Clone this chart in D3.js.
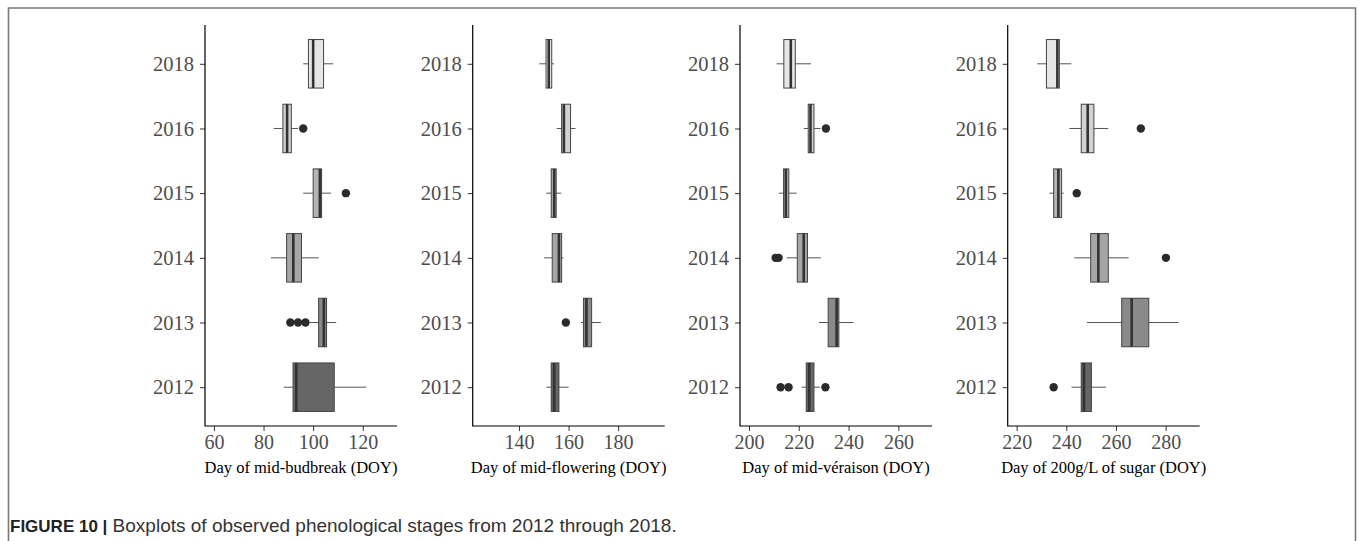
<!DOCTYPE html>
<html>
<head>
<meta charset="utf-8">
<script src="https://cdn.jsdelivr.net/npm/d3@7"></script>
<style>
  html, body { margin: 0; padding: 0; background: #fff; }
  svg { display: block; }
</style>
</head>
<body>
<svg id="chart" width="1360" height="541"></svg>
<script>
// ---------- DATA ----------
const years = ["2018", "2016", "2015", "2014", "2013", "2012"];

// per year: [lower whisker, Q1, median, Q3, upper whisker]
const budbreakStats = [
  [96, 98.1, 100, 104.2, 108.1],
  [84.1, 87.8, 89.5, 91.2, 93.9],
  [96, 100, 102.7, 103.4, 107.2],
  [83, 89.3, 92, 95.3, 102.2],
  [98.6, 102.2, 104.3, 105.4, 109.3],
  [88.1, 91.9, 93.2, 108.5, 121.4]
];
const budbreakOutliers = [[], [96], [113.2], [], [90.8, 93.9, 96.9], []];

const floweringStats = [
  [148.2, 150.9, 152, 153.2, 154.1],
  [155.2, 157.2, 158.1, 160.8, 162.8],
  [151, 153, 154.2, 155, 157],
  [150.1, 153.4, 156.1, 157.2, 157.9],
  [165, 166, 167.2, 169.3, 173],
  [151, 153, 154.2, 156.1, 160]
];
const floweringOutliers = [[], [], [], [], [158.9], []];

const veraisonStats = [
  [211.1, 214, 216.8, 218.6, 224.9],
  [222, 223.8, 224.7, 226.1, 228.7],
  [212, 213.9, 214.8, 216, 219.1],
  [215.1, 219.4, 222, 223.5, 228.9],
  [228.1, 231.8, 235.2, 236.1, 242],
  [221.1, 223, 224.2, 226.1, 228.5]
];
const veraisonOutliers = [[], [230.9], [], [210.7, 211.9], [], [212.7, 215.9, 230.7]];

const sugarStats = [
  [228.3, 232, 236.4, 237.2, 242],
  [241.2, 246, 248.6, 251.1, 256.9],
  [233.2, 234.9, 236.8, 238.1, 238.9],
  [243.2, 249.8, 252.9, 256.9, 265.1],
  [248.3, 262.3, 266.3, 273.2, 285.2],
  [242.1, 246, 247.1, 250.1, 256]
];
const sugarOutliers = [[], [270], [244.2], [280.1], [], [234.9]];

const axisTitles = [
  "Day of mid-budbreak (DOY)",
  "Day of mid-flowering (DOY)",
  "Day of mid-véraison (DOY)",
  "Day of 200g/L of sugar (DOY)"
];
const xDomains = [[56.4, 133.8], [121.3, 198.8], [196.4, 273.5], [216.4, 293.7]];
const xTicks = [[60, 80, 100, 120], [140, 160, 180], [200, 220, 240, 260], [220, 240, 260, 280]];
const yearFills = { "2018": "#e6e6e6", "2016": "#d2d2d2", "2015": "#b4b4b4", "2014": "#a6a6a6", "2013": "#8a8a8a", "2012": "#666666" };

const captionBold = "FIGURE 10 |";
const captionText = " Boxplots of observed phenological stages from 2012 through 2018.";

// ---------- LAYOUT ----------
const panels = [
  { stats: budbreakStats, outliers: budbreakOutliers },
  { stats: floweringStats, outliers: floweringOutliers },
  { stats: veraisonStats, outliers: veraisonOutliers },
  { stats: sugarStats, outliers: sugarOutliers }
];
const panelLefts = [205, 472.7, 740, 1007.7];
const panelWidth = 192;
const plotTop = 25, plotBottom = 426;

const svg = d3.select("#chart");

// figure frame
svg.append("path")
  .attr("d", `M8.5,541 V8 H1355.5 V541`)
  .attr("fill", "none")
  .attr("stroke", "#7a7a7a")
  .attr("stroke-width", 1.6);

const y = d3.scalePoint().domain(years).range([plotTop, plotBottom]).padding(0.6);
const boxH = y.step() * 0.75;

panels.forEach((p, i) => {
  const left = panelLefts[i];
  const x = d3.scaleLinear().domain(xDomains[i]).range([left, left + panelWidth]);
  const g = svg.append("g");

  // y axis
  const yAxis = g.append("g").attr("transform", `translate(${left},0)`)
    .call(d3.axisLeft(y).tickSize(5).tickPadding(6));
  yAxis.select(".domain").remove();
  yAxis.selectAll(".tick line").attr("stroke", "#333").attr("stroke-width", 1);
  yAxis.selectAll(".tick text")
    .attr("fill", "#4d4d4d")
    .style("font-family", "'Liberation Serif', 'Times New Roman', serif")
    .style("font-size", "20.5px");

  // x axis
  const xAxis = g.append("g").attr("transform", `translate(0,${plotBottom})`)
    .call(d3.axisBottom(x).tickValues(xTicks[i]).tickSize(5).tickPadding(4));
  xAxis.select(".domain").remove();
  xAxis.selectAll(".tick line").attr("stroke", "#333").attr("stroke-width", 1);
  xAxis.selectAll(".tick text")
    .attr("fill", "#4d4d4d")
    .style("font-family", "'Liberation Serif', 'Times New Roman', serif")
    .style("font-size", "20px");

  // axis lines
  g.append("path")
    .attr("d", `M${left},${plotTop} V${plotBottom} H${left + panelWidth}`)
    .attr("fill", "none").attr("stroke", "#000").attr("stroke-width", 1.2);

  // boxes
  years.forEach((yr, j) => {
    const [lo, q1, med, q3, hi] = p.stats[j];
    const cy = y(yr);
    const bg = g.append("g");
    bg.append("line").attr("x1", x(lo)).attr("x2", x(q1)).attr("y1", cy).attr("y2", cy)
      .attr("stroke", "#555").attr("stroke-width", 1);
    bg.append("line").attr("x1", x(q3)).attr("x2", x(hi)).attr("y1", cy).attr("y2", cy)
      .attr("stroke", "#555").attr("stroke-width", 1);
    bg.append("rect")
      .attr("x", x(q1)).attr("y", cy - boxH / 2)
      .attr("width", x(q3) - x(q1)).attr("height", boxH)
      .attr("fill", yearFills[yr]).attr("stroke", "#444").attr("stroke-width", 1);
    bg.append("line").attr("x1", x(med)).attr("x2", x(med))
      .attr("y1", cy - boxH / 2).attr("y2", cy + boxH / 2)
      .attr("stroke", "#333").attr("stroke-width", 2.6);
    p.outliers[j].forEach(v => {
      bg.append("circle").attr("cx", x(v)).attr("cy", cy).attr("r", 4.2).attr("fill", "#2b2b2b");
    });
  });

  // axis title
  g.append("text")
    .attr("x", left + panelWidth / 2).attr("y", 473)
    .attr("text-anchor", "middle")
    .attr("fill", "#000")
    .style("font-family", "'Liberation Serif', 'Times New Roman', serif")
    .style("font-size", "16.5px")
    .text(axisTitles[i]);
});

// caption
const cap = svg.append("text")
  .attr("x", 10).attr("y", 532)
  .attr("fill", "#333")
  .style("font-family", "'Liberation Sans', Arial, sans-serif")
  .style("font-size", "19px");
cap.append("tspan").attr("font-weight", "bold").attr("fill", "#222").style("font-size", "17px").text(captionBold);
cap.append("tspan").text(captionText);
</script>
</body>
</html>
